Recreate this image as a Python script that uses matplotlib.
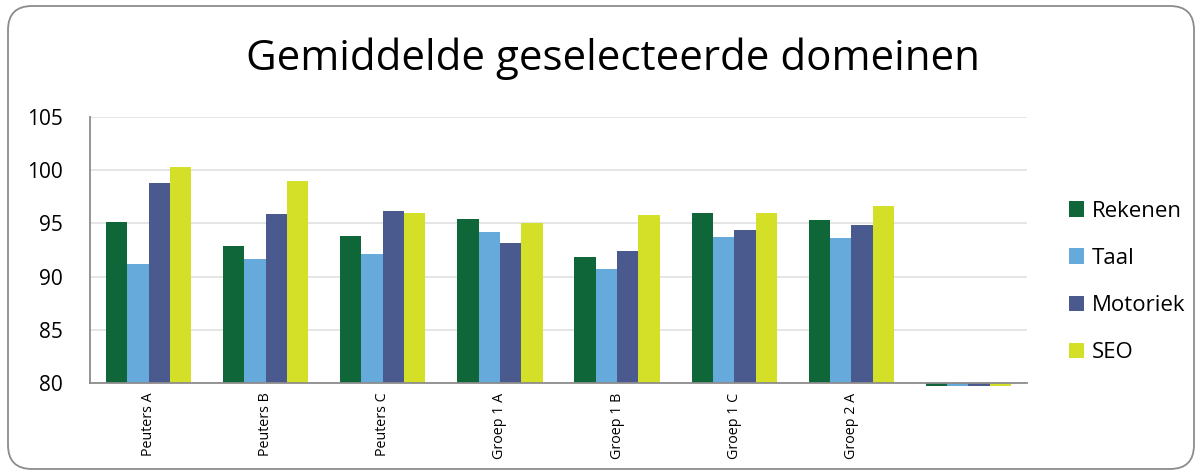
import matplotlib
matplotlib.use('Agg')
import matplotlib.pyplot as plt
import numpy as np
from matplotlib.patches import FancyBboxPatch
from matplotlib.transforms import Bbox, TransformedBbox

categories = ['Peuters A', 'Peuters B', 'Peuters C', 'Groep 1 A', 'Groep 1 B',
              'Groep 1 C', 'Groep 2 A', '']
rekenen = [95.1, 92.9, 93.85, 95.4, 91.8, 96.0, 95.35, 0]
taal = [91.2, 91.65, 92.1, 94.2, 90.75, 93.75, 93.65, 0]
motoriek = [98.8, 95.85, 96.2, 93.2, 92.4, 94.35, 94.85, 0]
seo = [100.3, 99.0, 96.0, 95.0, 95.8, 95.95, 96.6, 0]

series = [('Rekenen', rekenen, '#0f6638'),
          ('Taal', taal, '#65aadb'),
          ('Motoriek', motoriek, '#4b5a8e'),
          ('SEO', seo, '#d4df27')]

ymin, ymax = 80, 105

W, H = 1203, 474
fig = plt.figure(figsize=(W / 100, H / 100), dpi=100)

# rounded chart border
fig.patches.append(FancyBboxPatch((8 / W, 5 / H), 1186 / W, 463 / H,
                                  boxstyle='round,pad=0,rounding_size=0.02',
                                  transform=fig.transFigure, fill=False,
                                  edgecolor='#8c8c8c', linewidth=1.3,
                                  mutation_aspect=W / H))

ax = fig.add_axes([90 / W, 91 / H, 937 / W, 266 / H])

x = np.arange(len(categories))
bw = 0.182
# bars grow from the axis minimum, like Excel; values below it peek a few px out
clip = TransformedBbox(Bbox([[0, -0.012], [1, 1]]), ax.transAxes)
for i, (name, vals, col) in enumerate(series):
    vals = np.array(vals)
    bars = ax.bar(x + (i - 1.5) * bw, vals - ymin, bw, bottom=ymin,
                  color=col, label=name, zorder=2)
    for b in bars:
        b.set_clip_box(clip)

ax.set_xlim(-0.5, len(categories) - 0.5)
ax.set_ylim(ymin, ymax)
ax.set_yticks(np.arange(ymin, ymax + 1, 5))
ax.yaxis.grid(True, color='#e3e3e3', linewidth=1.3, zorder=0)
ax.set_axisbelow(True)

for s in ['top', 'right']:
    ax.spines[s].set_visible(False)
for s in ['left', 'bottom']:
    ax.spines[s].set_color('#8c8c8c')
    ax.spines[s].set_linewidth(1.3)
    ax.spines[s].set_zorder(3)

ax.set_xticks(x)
ax.set_xticklabels(categories, rotation=90, fontsize=10.3, family='Open Sans')
ax.tick_params(axis='x', length=0, pad=7)
ax.tick_params(axis='y', length=0, pad=19.5, labelsize=15)
for lab in ax.get_yticklabels():
    lab.set_family('Open Sans')

fig.text(613 / W, 1 - 70 / H, 'Gemiddelde geselecteerde domeinen',
         ha='center', va='baseline', fontsize=30.3, family='Open Sans')

ax.legend(loc='center left', bbox_to_anchor=(1069 / W, 1 - 282 / H),
          bbox_transform=fig.transFigure, frameon=False,
          prop={'family': 'Open Sans', 'size': 16}, borderpad=0,
          borderaxespad=0, handlelength=0.68, handleheight=0.68,
          handletextpad=0.36, labelspacing=1.18)

fig.savefig('out.png', dpi=100)
